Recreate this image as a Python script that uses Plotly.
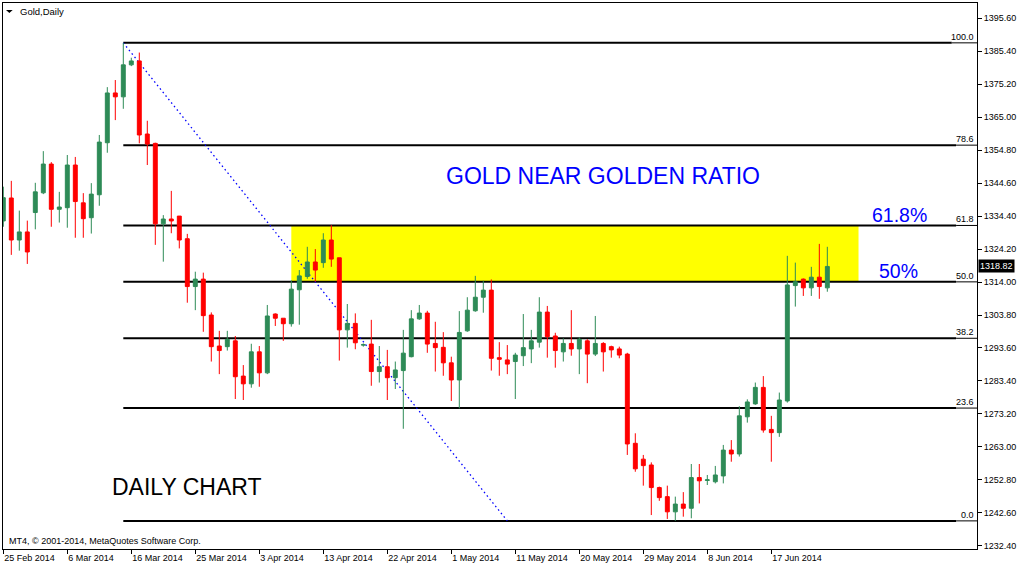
import plotly.graph_objects as go
import pandas as pd

# ---------------- data ----------------
dates = [d.strftime("%-d %b %Y") for d in
         pd.bdate_range(start="2014-02-25", periods=104, freq="C",
                        weekmask="Sun Mon Tue Wed Thu Fri")]

opens = [1332.9, 1340.0, 1327.0, 1329.5, 1335.5, 1341.6, 1350.5, 1336.5, 1337.0, 1350.2,
         1338.5, 1333.9, 1341.0, 1357.1, 1372.5, 1371.3, 1381.2, 1382.4, 1359.8, 1356.9,
         1332.0, 1333.5, 1334.4, 1327.4, 1312.6, 1314.9, 1303.8, 1294.2, 1294.0, 1295.8,
         1284.9, 1282.5, 1292.4, 1285.9, 1304.1, 1302.8, 1301.1, 1311.6, 1315.7, 1320.2,
         1320.0, 1327.0, 1321.5, 1299.2, 1301.2, 1294.5, 1294.8, 1286.3, 1287.8, 1284.4,
         1286.6, 1290.9, 1302.6, 1304.4, 1295.0, 1293.8, 1289.0, 1283.7, 1298.9, 1305.1,
         1309.3, 1311.5, 1290.6, 1289.9, 1289.4, 1291.2, 1293.3, 1295.4, 1304.7, 1297.3,
         1292.4, 1295.0, 1293.3, 1295.8, 1291.7, 1295.0, 1294.0, 1293.3, 1291.7, 1264.1,
         1259.2, 1257.4, 1250.4, 1247.6, 1242.9, 1245.3, 1244.0, 1253.5, 1252.6, 1252.2,
         1254.0, 1262.0, 1260.8, 1272.3, 1276.3, 1281.4, 1268.4, 1267.4, 1277.2, 1312.9,
         1314.9, 1312.2, 1315.5, 1312.2]
highs = [1343.5, 1345.3, 1336.1, 1333.0, 1344.7, 1354.5, 1351.1, 1341.9, 1353.3, 1352.7,
         1341.5, 1344.6, 1359.5, 1374.3, 1376.5, 1388.0, 1383.4, 1385.0, 1363.9, 1357.1,
         1334.7, 1342.2, 1334.4, 1328.9, 1317.2, 1316.9, 1304.6, 1298.9, 1298.9, 1297.3,
         1288.3, 1294.9, 1294.2, 1306.9, 1304.3, 1302.8, 1314.5, 1317.7, 1324.9, 1324.2,
         1329.1, 1331.6, 1321.5, 1307.2, 1304.3, 1295.0, 1302.3, 1294.2, 1293.0, 1289.4,
         1299.2, 1305.3, 1306.9, 1305.1, 1301.7, 1298.5, 1290.9, 1305.0, 1309.3, 1315.9,
         1314.4, 1314.8, 1295.4, 1294.5, 1292.1, 1304.1, 1299.2, 1309.3, 1306.6, 1298.3,
         1296.6, 1305.3, 1296.9, 1296.3, 1303.5, 1295.4, 1294.3, 1294.0, 1292.1, 1267.2,
         1260.5, 1258.2, 1250.7, 1251.0, 1247.6, 1249.0, 1257.7, 1257.7, 1254.3, 1257.1,
         1263.6, 1265.1, 1275.6, 1277.7, 1282.9, 1284.9, 1272.6, 1279.8, 1322.1, 1320.0,
         1315.1, 1318.7, 1325.8, 1324.9]
lows = [1331.1, 1322.4, 1323.7, 1319.6, 1330.3, 1341.2, 1331.1, 1332.4, 1330.8, 1327.7,
        1327.7, 1329.0, 1337.6, 1354.0, 1364.1, 1367.6, 1380.8, 1356.9, 1350.2, 1325.5,
        1320.3, 1329.1, 1324.4, 1307.6, 1305.3, 1298.6, 1289.4, 1285.5, 1292.8, 1277.8,
        1277.5, 1281.3, 1281.6, 1285.5, 1300.4, 1295.8, 1300.2, 1300.8, 1315.0, 1314.1,
        1318.4, 1318.7, 1289.7, 1293.7, 1293.2, 1294.0, 1281.9, 1282.9, 1277.5, 1280.9,
        1268.6, 1290.7, 1302.3, 1292.1, 1286.3, 1285.0, 1277.2, 1274.9, 1298.6, 1304.8,
        1304.5, 1286.6, 1285.0, 1285.5, 1277.8, 1288.0, 1288.9, 1293.7, 1290.6, 1287.5,
        1289.4, 1291.2, 1285.5, 1282.7, 1291.1, 1286.3, 1290.6, 1290.4, 1260.5, 1255.3,
        1251.0, 1241.9, 1246.3, 1240.7, 1240.1, 1241.4, 1240.9, 1245.5, 1251.2, 1251.7,
        1251.7, 1258.4, 1260.0, 1270.5, 1276.0, 1267.4, 1258.4, 1266.1, 1276.7, 1306.4,
        1309.7, 1309.7, 1308.8, 1311.0]
closes = [1340.1, 1327.0, 1329.5, 1323.3, 1341.9, 1350.5, 1336.5, 1337.2, 1350.2, 1338.9,
          1333.6, 1341.2, 1357.3, 1372.5, 1371.3, 1381.2, 1382.4, 1359.5, 1356.7, 1332.0,
          1333.5, 1332.9, 1327.0, 1312.6, 1314.9, 1303.6, 1294.0, 1292.8, 1296.3, 1284.7,
          1282.5, 1292.4, 1285.9, 1303.5, 1302.8, 1301.1, 1311.8, 1315.9, 1320.2, 1317.7,
          1327.0, 1321.1, 1299.2, 1301.2, 1295.2, 1294.6, 1286.3, 1287.8, 1284.4, 1286.8,
          1292.0, 1302.6, 1304.4, 1294.8, 1293.7, 1289.0, 1283.7, 1298.4, 1305.3, 1309.3,
          1311.5, 1290.4, 1290.1, 1288.6, 1291.4, 1293.7, 1295.8, 1304.7, 1297.1, 1292.8,
          1295.0, 1293.3, 1296.3, 1291.7, 1295.0, 1292.4, 1293.0, 1291.4, 1263.9, 1256.2,
          1257.2, 1250.4, 1247.3, 1242.9, 1245.3, 1244.0, 1253.5, 1252.5, 1252.8, 1254.3,
          1262.0, 1260.8, 1272.6, 1276.9, 1281.4, 1268.2, 1267.4, 1277.5, 1313.1, 1314.1,
          1312.2, 1315.5, 1312.6, 1318.82]

tick_dates = ["25 Feb 2014", "6 Mar 2014", "16 Mar 2014", "25 Mar 2014", "3 Apr 2014",
              "13 Apr 2014", "22 Apr 2014", "1 May 2014", "11 May 2014", "20 May 2014",
              "29 May 2014", "8 Jun 2014", "17 Jun 2014"]
price_ticks = [1232.40, 1242.60, 1252.80, 1263.00, 1273.20, 1283.40, 1293.60, 1303.80,
               1314.00, 1324.20, 1334.40, 1344.60, 1354.80, 1365.00, 1375.20, 1385.40,
               1395.60]
fib_ratios = [0.0, 23.6, 38.2, 50.0, 61.8, 78.6, 100.0]
fib_labels = ["0.0", "23.6", "38.2", "50.0", "61.8", "78.6", "100.0"]
trend_end_date = "9 May 2014"
zone_start_date = "8 Apr 2014"
last_price = closes[-1]

# ---------------- styles ----------------
GREEN = "#2E8B57"
RED = "#FF0000"
FONT = "Liberation Sans, Arial, sans-serif"

swing_high = max(highs)
swing_low = min(lows)
hi_idx = highs.index(swing_high)
levels = [swing_low + r / 100.0 * (swing_high - swing_low) for r in fib_ratios]
lvl = dict(zip(fib_labels, levels))

fig = go.Figure()

# yellow zone between 50% and 61.8%
fig.add_shape(type="rect", xref="x", yref="y", layer="below",
              x0=dates.index(zone_start_date), x1=106.9,
              y0=lvl["50.0"], y1=lvl["61.8"],
              fillcolor="#FFFF00", line=dict(width=0))

# fibonacci lines
for lab, v in zip(fib_labels, levels):
    x_end = 118.55 if lab == "100.0" else 119.1
    fig.add_shape(type="line", xref="x", yref="y", layer="below",
                  x0=hi_idx, x1=x_end, y0=v, y1=v,
                  line=dict(color="black", width=2))
    fig.add_shape(type="line", xref="x", yref="y", layer="below",
                  x0=x_end, x1=121.71, y0=v, y1=v,
                  line=dict(color="black", width=1))
    fig.add_annotation(xref="paper", yref="y", x=1.0, y=v, xanchor="right",
                       yanchor="bottom", xshift=-1, yshift=-1, showarrow=False,
                       text=lab, font=dict(family=FONT, size=9, color="black"))

# dotted trend line
fig.add_shape(type="line", xref="x", yref="y", layer="below",
              x0=hi_idx, y0=swing_high, x1=dates.index(trend_end_date), y1=swing_low,
              line=dict(color="#0000FF", width=1.3, dash="1.5px,3px"))

fig.add_trace(go.Candlestick(
    x=dates, open=opens, high=highs, low=lows, close=closes,
    increasing=dict(line=dict(color=GREEN, width=1), fillcolor=GREEN),
    decreasing=dict(line=dict(color=RED, width=1), fillcolor=RED),
    whiskerwidth=0, showlegend=False, hoverinfo="skip"))

# text annotations
fig.add_annotation(xref="paper", yref="paper", x=0.616, y=0.683, showarrow=False,
                   text="GOLD NEAR GOLDEN RATIO", xanchor="center", yanchor="middle",
                   font=dict(family=FONT, size=23, color="#0000FF"))
fig.add_annotation(xref="paper", yref="paper", x=0.920, y=0.6117, showarrow=False,
                   text="61.8%", xanchor="center", yanchor="middle",
                   font=dict(family=FONT, size=19.5, color="#0000FF"))
fig.add_annotation(xref="paper", yref="paper", x=0.9194, y=0.5095, showarrow=False,
                   text="50%", xanchor="center", yanchor="middle",
                   font=dict(family=FONT, size=19.5, color="#0000FF"))
fig.add_annotation(xref="paper", yref="paper", x=0.1894, y=0.1141, showarrow=False,
                   text="DAILY CHART", xanchor="center", yanchor="middle",
                   font=dict(family=FONT, size=23, color="black"))
fig.add_annotation(xref="paper", yref="paper", x=0.0157, y=0.985, showarrow=False,
                   text="Gold,Daily", xanchor="left", yanchor="middle",
                   font=dict(family=FONT, size=9.5, color="black"))
fig.add_annotation(xref="paper", yref="paper", x=0.0038, y=0.0147, showarrow=False,
                   text="MT4, \u00a9 2001-2014, MetaQuotes Software Corp.",
                   xanchor="left", yanchor="middle",
                   font=dict(family=FONT, size=9, color="black"))
fig.add_shape(type="path", xref="paper", yref="paper",
              path="M 0.00308 0.98718 L 0.00996 0.98718 L 0.00652 0.98168 Z",
              fillcolor="black", line=dict(width=0))
# current price tag
fig.add_annotation(xref="paper", yref="y", x=1.0, y=last_price, xanchor="left",
                   yanchor="middle", xshift=1, showarrow=False,
                   text=f"{last_price:.2f}", bgcolor="black", borderpad=1,
                   font=dict(family=FONT, size=9, color="white"))

fig.update_layout(
    width=1020, height=567,
    margin=dict(l=3, r=43, t=3, b=18),
    paper_bgcolor="white", plot_bgcolor="white",
    boxgap=0.3, boxgroupgap=0.3,
    showlegend=False,
    xaxis=dict(type="category", range=[-0.0375, 121.71],
               rangeslider=dict(visible=False),
               showline=True, mirror=True, linecolor="black", linewidth=1,
               ticks="outside", ticklen=4, tickcolor="black",
               tickvals=tick_dates, ticktext=tick_dates,
               ticklabelposition="outside right",
               tickfont=dict(family=FONT, size=9, color="black"),
               showgrid=False, zeroline=False),
    yaxis=dict(side="right", range=[1231.40, 1400.33],
               showline=True, mirror=True, linecolor="black", linewidth=1,
               ticks="outside", ticklen=4, tickcolor="black",
               tickvals=price_ticks, tickformat=".2f",
               tickfont=dict(family=FONT, size=9, color="black"),
               showgrid=False, zeroline=False),
)

fig.write_html("out.html",
               config={"displayModeBar": False, "staticPlot": True},
               post_script="document.body.style.margin='0';document.body.style.padding='0';")
